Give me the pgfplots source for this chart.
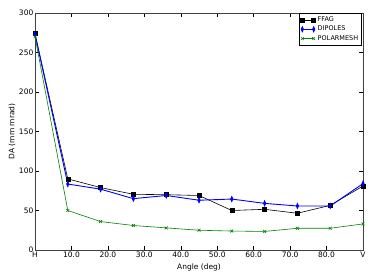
\documentclass[border=0pt]{standalone}
\usepackage{pgfplots}
\pgfplotsset{compat=1.18}
\usepackage{fontspec}
\setmainfont{DejaVu Sans}
\begin{document}
\begin{tikzpicture}[x=1pt,y=1pt]
\useasboundingbox (-35,-30) rectangle (339,250);
\begin{axis}[
  at={(0,0)}, anchor=south west,
  scale only axis, width=328pt, height=237pt,
  xmin=0, xmax=90, ymin=0, ymax=300,
  xtick={0,10,20,30,40,50,60,70,80,90},
  xticklabels={H,10.0,20.0,30.0,40.0,50.0,60.0,70.0,80.0,V},
  ytick={0,50,100,150,200,250,300},
  tick align=inside, major tick length=4pt,
  every tick/.style={black, line width=0.5pt},
  axis line style={black!75, line width=0.6pt},
  /pgf/number format/assume math mode=true,
  ticklabel style={font=\fontsize{7.5}{8}\selectfont},
  xticklabel style={inner sep=1.5pt},
  yticklabel style={inner sep=1.5pt},
  xlabel={Angle (deg)}, ylabel={DA (mm mrad)},
  xlabel style={font=\fontsize{7.5}{8}\selectfont, at={(axis description cs:0.5,0)}, anchor=center, yshift=-17pt},
  ylabel style={font=\fontsize{7.5}{8}\selectfont, at={(axis description cs:0,0.5)}, anchor=center, yshift=23pt},
  legend style={at={(1,1)}, anchor=north east, font=\fontsize{6.5}{7}\selectfont,
    draw=black, line width=0.6pt, inner sep=1.5pt, row sep=-1pt, xshift=-1pt, yshift=0pt},
  legend cell align=left,
  legend image code/.code={\draw[#1] plot coordinates {(0cm,0cm) (0.4cm,0cm)};},
]
\addplot[black, line width=0.6pt, mark=square*, mark size=2pt] coordinates {
(0,274) (9,90) (18,79) (27,70.5) (36,70) (45,69) (54,50) (63,51.5) (72,46.5) (81,56.5) (90,81)};
\addlegendentry{FFAG}
\addplot[blue, line width=0.9pt, mark=diamond*, mark size=2.4pt, mark options={xscale=0.6}] coordinates {
(0,273) (9,83.5) (18,77) (27,65) (36,69) (45,63) (54,64.5) (63,59) (72,55.7) (81,55.7) (90,84)};
\addlegendentry{DIPOLES}
\addplot[green!50!black, line width=0.6pt, mark=x, mark size=2pt] coordinates {
(0,270) (9,50) (18,36) (27,31) (36,28) (45,25) (54,24) (63,23.5) (72,27.5) (81,27.5) (90,33)};
\addlegendentry{POLARMESH}
\end{axis}
\end{tikzpicture}
\end{document}
